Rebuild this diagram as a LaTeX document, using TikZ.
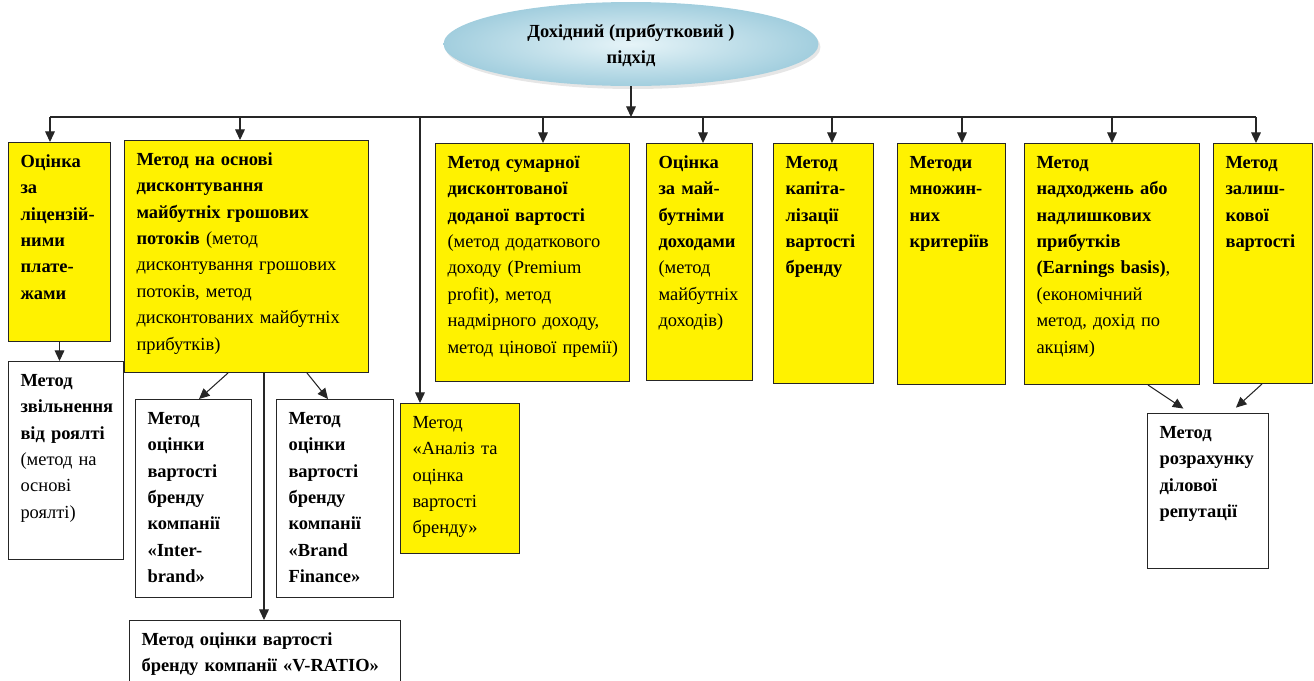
\documentclass[tikz,border=0pt]{standalone}
\usepackage{fontspec}
\setmainfont{Liberation Serif}
\usetikzlibrary{arrows.meta, positioning, shapes.geometric, shadows, shadings}
\definecolor{linec}{HTML}{262626}
\definecolor{ellin}{HTML}{E6F4F8}
\definecolor{ellout}{HTML}{A2CEDE}
\tikzset{
  box/.style={draw=linec, line width=0.6pt, anchor=north west, align=left,
    inner xsep=0.24cm, inner ysep=0.2cm, text height=0.3cm,
    font=\fontsize{10.5}{15}\selectfont},
  ybox/.style={box, fill=yellow},
  wbox/.style={box, fill=white},
  topnode/.style={ellipse, minimum width=7.5cm, minimum height=1.68cm, inner sep=0pt,
    shading=radial, inner color=ellin, outer color=ellout,
    drop shadow={opacity=0.2, shadow xshift=0.04cm, shadow yshift=-0.06cm},
    align=center, font=\bfseries\fontsize{10.5}{15}\selectfont},
  link/.style={draw=linec, line width=0.6pt}
}
\begin{document}
\begin{tikzpicture}[x=0.02cm, y=-0.02cm, >={Triangle[length=6pt,width=5.5pt]}]
\useasboundingbox (0,0) rectangle (1314,680);

%вершина
\node[topnode] (top) at (631,44) {\rule{0pt}{9pt}Дохідний (прибутковий )\\ підхід};

%шина
\coordinate (t1) at (50,117);
\coordinate (t2) at (240,117);
\coordinate (t3) at (420,117);
\coordinate (t4) at (543,117);
\coordinate (t5) at (703,117);
\coordinate (t6) at (832,117);
\coordinate (t7) at (962,117);
\coordinate (t8) at (1112,117);
\coordinate (t9) at (1256,117);

%перший ряд
\node[ybox, text width=1.56cm, text depth=3.28cm] (b1) at (8,142)
  {\bfseries Оцінка\\ за\\ ліцензій-\\ ними\\ плате-\\ жами};
\node[ybox, text width=4.4cm, text depth=3.94cm] (b2) at (124,140)
  {\bfseries Метод~на~основі\\ дисконтування\\ майбутніх~грошових\\ потоків \mdseries(метод\\ дисконтування~грошових\\ потоків,~метод\\ дисконтованих~майбутніх\\ прибутків)};
\node[ybox, text width=1.9cm, text depth=2.3cm] (b3) at (400,403)
  {Метод\\ «Аналіз~та\\ оцінка\\ вартості\\ бренду»};
\node[ybox, text width=3.4cm, text depth=4.06cm] (b4) at (435,143)
  {\bfseries Метод~сумарної\\ дисконтованої\\ доданої~вартості\\ \mdseries(метод~додаткового\\ доходу~(Premium\\ profit),~метод\\ надмірного~доходу,\\ метод~цінової~премії)};
\node[ybox, text width=1.64cm, text depth=4.04cm] (b5) at (646,143)
  {\bfseries Оцінка\\ за~май-\\ бутніми\\ доходами\\ \mdseries(метод\\ майбутніх\\ доходів)};
\node[ybox, text width=1.52cm, text depth=4.1cm] (b6) at (773,143)
  {\bfseries Метод\\ капіта-\\ лізації\\ вартості\\ бренду};
\node[ybox, text width=1.68cm, text depth=4.12cm] (b7) at (897,143)
  {\bfseries Методи\\ множин-\\ них\\ критеріїв};
\node[ybox, text width=3.02cm, text depth=4.12cm] (b8) at (1024,143)
  {\bfseries Метод\\ надходжень~або\\ надлишкових\\ прибутків\\ (Earnings~basis)\mdseries,\\ (економічний\\ метод,~дохід~по\\ акціям)};
\node[ybox, text width=1.5cm, text depth=4.1cm] (b9) at (1213,143)
  {\bfseries Метод\\ залиш-\\ кової\\ вартості};

%другий ряд
\node[wbox, text width=1.82cm, text depth=3.26cm] (r1) at (8,361)
  {\bfseries Метод\\ звільнення\\ від~роялті\\ \mdseries(метод~на\\ основі\\ роялті)};
\node[wbox, text width=1.84cm, text depth=3.26cm] (r2) at (135,399)
  {\bfseries Метод\\ оцінки\\ вартості\\ бренду\\ компанії\\ «Inter-\\ brand»};
\node[wbox, text width=1.86cm, text depth=3.26cm] (r3) at (276,399)
  {\bfseries Метод\\ оцінки\\ вартості\\ бренду\\ компанії\\ «Brand\\ Finance»};
\node[wbox, text width=4.94cm, text depth=0.8cm] (r4) at (129,620)
  {\bfseries Метод~оцінки~вартості\\ бренду~компанії~«V-RATIO»};
\node[wbox, text width=1.94cm, text depth=2.4cm] (r5) at (1147,413)
  {\bfseries Метод\\ розрахунку\\ ділової\\ репутації};

%стрілки
\draw[link,->] (top.south) -- (top.south |- t1);
\draw[link] (t1) -- (t9);
\draw[link,->] (t1) -- (t1 |- b1.north);
\draw[link,->] (t2) -- (t2 |- b2.north);
\draw[link,->] (t3) -- (t3 |- b3.north);
\draw[link,->] (t4) -- (t4 |- b4.north);
\draw[link,->] (t5) -- (t5 |- b5.north);
\draw[link,->] (t6) -- (t6 |- b6.north);
\draw[link,->] (t7) -- (t7 |- b7.north);
\draw[link,->] (t8) -- (t8 |- b8.north);
\draw[link,->] (t9) -- (t9 |- b9.north);

\draw[link,->] (b1.south) -- (b1.south |- r1.north);
\draw[link,->] (b2.south -| 228,0) -- (r2.north -| 199,0);
\draw[link,->] (b2.south -| 307,0) -- (r3.north -| 328,0);
\draw[link,->] (b2.south -| 264,0) -- (r4.north -| 264,0);
\draw[link,->,shorten >=0.16cm] (b8.south -| 1148,0) -- (r5.north -| 1190,0);
\draw[link,->,shorten >=0.16cm] (b9.south -| 1262,0) -- (r5.north -| 1230,0);
\end{tikzpicture}
\end{document}
